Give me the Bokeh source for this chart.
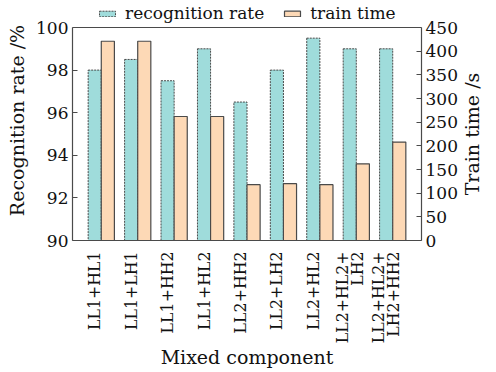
import numpy as np
from bokeh.plotting import figure
from bokeh.layouts import row
from bokeh.models import Range1d, LinearAxis, FixedTicker, Legend, LegendItem, Span
from bokeh.core.properties import value
from bokeh.embed import file_html
from bokeh.resources import INLINE

categories = ["LL1+HL1", "LL1+LH1", "LL1+HH2", "LL1+HL2", "LL2+HH2",
              "LL2+LH2", "LL2+HL2", "LL2+HL2+\nLH2", "LL2+HL2+\nLH2+HH2"]
recognition_rate = [98.0, 98.5, 97.5, 99.0, 96.5, 98.0, 99.5, 99.0, 99.0]
train_time = [421, 421, 262, 262, 118, 120, 118, 162, 208]
left_ticks = [90, 92, 94, 96, 98, 100]
right_ticks = [0, 50, 100, 150, 200, 250, 300, 350, 400, 450]

FONT = "DejaVu Serif"
TEXT_SIZE = "19px"
TICK_SIZE = "17px"
TEAL = "#9fdcdb"
PEACH = "#fdd9b6"
EDGE = "#4a4a4a"
INK = "#111111"
BW = 0.36
LINE_GAP = 0.206
X0, X1 = -0.61, 8.97
TOP, BOTTOM, H = 27, 132, 372
L0, L1 = 90, 100
R0, R1 = 0, 450

# the frame reaches the top of the canvas so that the legend can sit above the box
box_h = H - TOP - BOTTOM
extra = TOP / box_h
yr = Range1d(L0, L1 + extra * (L1 - L0))
idx = np.arange(len(categories))

p = figure(width=463, height=H, output_backend="svg", toolbar_location=None,
           title=None, x_range=Range1d(X0, X1), y_range=yr,
           min_border_left=72, min_border_right=42, min_border_top=0,
           min_border_bottom=BOTTOM)
p.extra_y_ranges = {"time": Range1d(R0, R1 + extra * (R1 - R0))}

r1 = p.vbar(x=idx, top=recognition_rate, bottom=L0, width=BW,
            fill_color=TEAL, line_color=EDGE, line_dash="2 1", line_width=1)
r2 = p.vbar(x=idx + BW, top=train_time, bottom=R0, width=BW,
            fill_color=PEACH, line_color=EDGE, line_width=1.2,
            y_range_name="time")

p.grid.visible = False
p.outline_line_color = None
p.add_layout(Span(location=L1, dimension="width", line_color=EDGE, line_width=1.2))

# x axis: one tick per text line so that two-line labels sit side by side
tick_pos, tick_txt = [], []
for i, cat in zip(idx, categories):
    lines = cat.split("\n")
    n = len(lines)
    for k, line in enumerate(lines):
        tick_pos.append(float(i) + (k - (n - 1) / 2) * 2 * LINE_GAP)
        tick_txt.append(line)

xa = p.xaxis[0]
xa.ticker = FixedTicker(ticks=tick_pos)
xa.major_label_overrides = dict(zip(tick_pos, tick_txt))
xa.major_label_orientation = np.pi / 2
xa.major_tick_line_color = None
xa.minor_tick_line_color = None
xa.axis_line_color = EDGE
xa.axis_line_width = 1.2
xa.axis_label = "Mixed component"
xa.major_label_standoff = 5
xa.axis_label_standoff = 0

# left axis
ya = p.yaxis[0]
ya.ticker = FixedTicker(ticks=left_ticks)
ya.bounds = (L0, L1)
ya.axis_label = "Recognition rate /%"
ya.major_tick_in = 5
ya.major_tick_out = 0
ya.minor_tick_line_color = None
ya.axis_line_color = EDGE
ya.axis_line_width = 1.2
ya.major_tick_line_color = EDGE
ya.major_label_standoff = 4
ya.axis_label_standoff = 5

# right axis
ra = LinearAxis(y_range_name="time", ticker=FixedTicker(ticks=right_ticks),
                bounds=(R0, R1))
ra.major_tick_in = 5
ra.major_tick_out = 0
ra.minor_tick_line_color = None
ra.axis_line_color = EDGE
ra.axis_line_width = 1.2
ra.major_tick_line_color = EDGE
ra.major_label_standoff = 4
p.add_layout(ra, "right")

for ax in [xa, ya, ra]:
    ax.axis_label_text_font = FONT
    ax.axis_label_text_font_size = TEXT_SIZE
    ax.axis_label_text_font_style = "normal"
    ax.axis_label_text_color = INK
    ax.major_label_text_color = INK
    ax.major_label_text_font = FONT
for ax in [ya, ra]:
    ax.major_label_text_font_size = TICK_SIZE
xa.major_label_text_font_size = "15.8px"

legend = Legend(items=[LegendItem(label="recognition rate", renderers=[r1]),
                       LegendItem(label="train time", renderers=[r2])],
                orientation="horizontal", location=(25, box_h + 4),
                border_line_color=None, background_fill_alpha=0,
                padding=0, margin=0, spacing=18, glyph_width=20,
                glyph_height=7, label_standoff=8, label_height=18,
                label_text_font=FONT, label_text_font_size="17px",
                label_text_color=INK)
p.add_layout(legend, "center")

# narrow strip on the right carrying the right-axis title (bottom-to-top)
q = figure(width=33, height=H, output_backend="svg", toolbar_location=None,
           title=None, x_range=Range1d(0, 33), y_range=yr,
           min_border_left=0, min_border_right=0, min_border_top=0,
           min_border_bottom=BOTTOM)
q.axis.visible = False
q.grid.visible = False
q.outline_line_color = None
q.text(x=[8], y=[(L0 + L1) / 2], text=["Train time /s"],
       angle=np.pi / 2, text_align="center", text_baseline="middle",
       text_font=value(FONT), text_font_size=TEXT_SIZE, text_color=INK)

open("out.html", "w").write(file_html(row(p, q), INLINE))
